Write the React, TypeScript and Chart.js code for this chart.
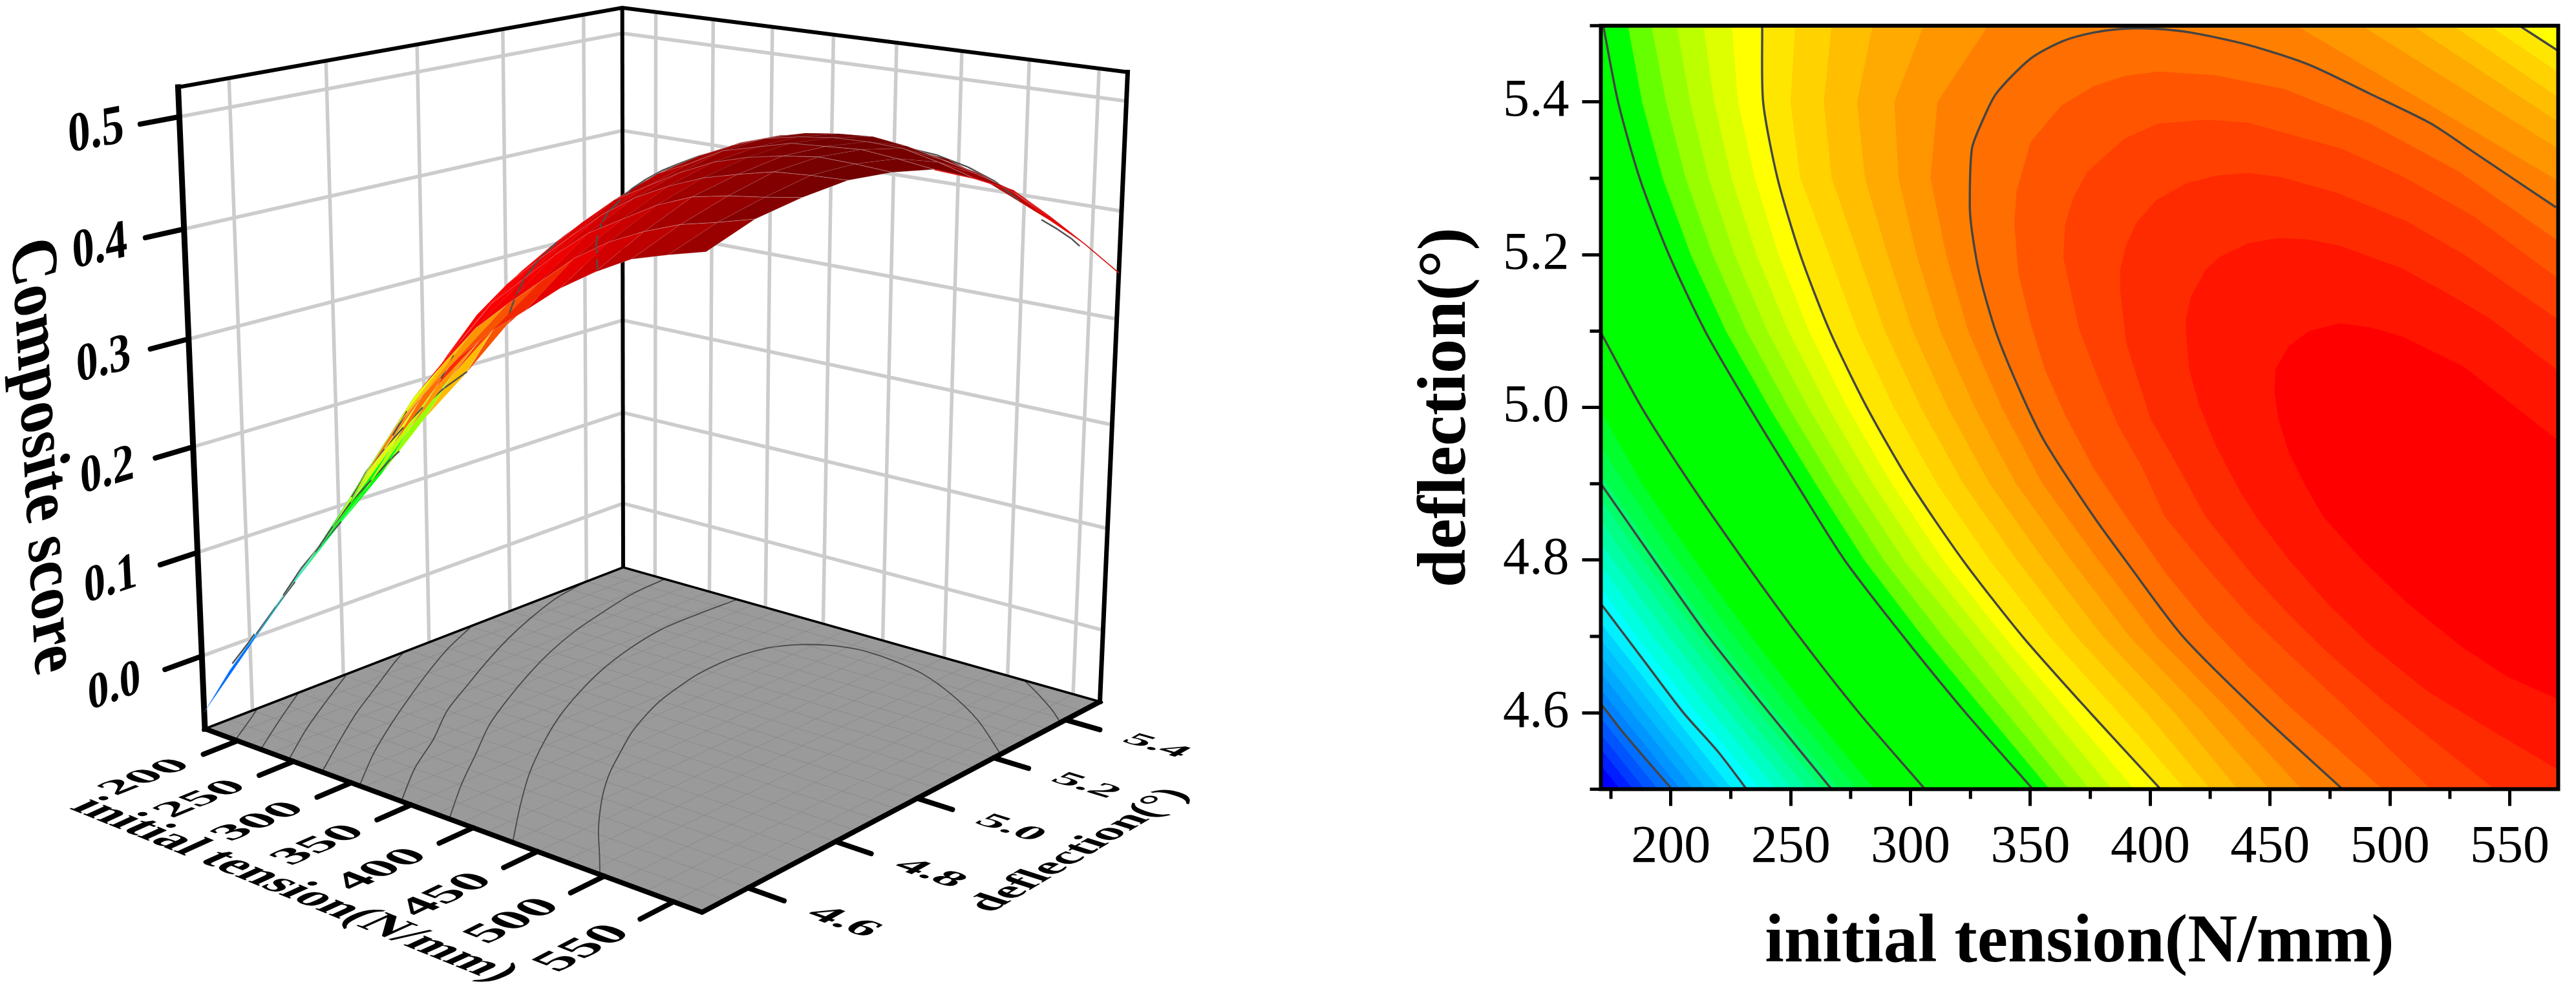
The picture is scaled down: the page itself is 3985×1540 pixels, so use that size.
import React, { useEffect, useRef } from "react";
import { Chart, registerables } from "chart.js";

Chart.register(...registerables);

// ---------- axis ticks ----------
const tensionTicks = [200, 250, 300, 350, 400, 450, 500, 550];
const tensionMinorTicks = [175, 225, 275, 325, 375, 425, 475, 525];
const deflectionTicks = [4.6, 4.8, 5.0, 5.2, 5.4];
const deflectionMinorTicks = [4.5, 4.7, 4.9, 5.1, 5.3, 5.5];
const scoreTicks = [0, 0.1, 0.2, 0.3, 0.4, 0.5];

// ---------- surface ----------
const surfaceX = [170, 195, 220, 245, 270, 295, 320, 345, 370, 395, 420, 445, 470, 495, 520, 545, 570];
const surfaceY = [4.5, 4.6, 4.7, 4.8, 4.9, 5.0, 5.1, 5.2, 5.3, 5.4, 5.5];
const surfaceZ = [
  [-0.055, -0.005, 0.038, 0.082, 0.126, 0.174, 0.221, 0.269, 0.307, 0.342, 0.37, 0.393, 0.417, 0.436, 0.452, 0.461, 0.469],
  [-0.007, 0.041, 0.085, 0.128, 0.178, 0.227, 0.275, 0.312, 0.348, 0.375, 0.4, 0.425, 0.444, 0.458, 0.469, 0.476, 0.484],
  [0.04, 0.084, 0.129, 0.178, 0.225, 0.271, 0.313, 0.352, 0.379, 0.406, 0.43, 0.447, 0.464, 0.476, 0.482, 0.486, 0.491],
  [0.081, 0.124, 0.174, 0.225, 0.275, 0.318, 0.352, 0.379, 0.405, 0.43, 0.45, 0.465, 0.477, 0.485, 0.492, 0.494, 0.495],
  [0.119, 0.169, 0.218, 0.266, 0.308, 0.347, 0.376, 0.403, 0.428, 0.445, 0.462, 0.476, 0.485, 0.491, 0.495, 0.494, 0.492],
  [0.16, 0.209, 0.25, 0.3, 0.337, 0.37, 0.394, 0.42, 0.442, 0.456, 0.472, 0.48, 0.488, 0.49, 0.492, 0.489, 0.485],
  [0.193, 0.243, 0.289, 0.33, 0.36, 0.386, 0.409, 0.432, 0.449, 0.463, 0.474, 0.48, 0.484, 0.485, 0.484, 0.477, 0.468],
  [0.23, 0.272, 0.31, 0.343, 0.37, 0.395, 0.418, 0.438, 0.452, 0.462, 0.47, 0.474, 0.476, 0.472, 0.465, 0.457, 0.448],
  [0.255, 0.29, 0.328, 0.355, 0.377, 0.4, 0.42, 0.437, 0.45, 0.455, 0.458, 0.459, 0.455, 0.45, 0.443, 0.431, 0.415],
  [0.27, 0.3, 0.335, 0.359, 0.38, 0.4, 0.418, 0.428, 0.433, 0.437, 0.44, 0.44, 0.437, 0.424, 0.41, 0.396, 0.38],
  [0.278, 0.31, 0.343, 0.36, 0.378, 0.395, 0.41, 0.417, 0.42, 0.425, 0.425, 0.42, 0.41, 0.398, 0.383, 0.364, 0.343],
];

// ---------- contour fill bands: region >= level gets the colour ----------
const bandRowsY = [5.5, 5.4, 5.3, 5.2, 5.1, 5.0, 4.9, 4.8, 4.7, 4.6, 4.5];
const _ = null;
const bandColors = [
  "#0000ff", "#001eff", "#003cff", "#0055ff", "#006eff", "#0082ff", "#0096ff", "#00aaff", "#00beff", "#00d2ff", "#00f0ff", "#00ffff",
  "#00ffe1", "#00ffc3", "#00ffa5", "#00ff87", "#00ff69", "#00ff4b", "#00ff2d", "#00ff00",
  "#66ff00", "#99ff00", "#bbff00", "#ddff00", "#ffff00",
  "#ffe600", "#ffd200", "#ffbe00", "#ffaa00", "#ff9600", "#ff8000",
  "#ff6e00", "#ff5500", "#ff4000", "#ff2b00", "#ff1500", "#ff0000",
];
const bandZ = [
  -1, -0.045, -0.033, -0.022, -0.01, 0.003, 0.012, 0.022, 0.032, 0.042, 0.05, 0.06,
  0.068, 0.078, 0.088, 0.098, 0.108, 0.125, 0.135, 0.155,
  0.29, 0.3, 0.315, 0.33, 0.342,
  0.355, 0.367, 0.378, 0.39, 0.402, 0.413,
  0.425, 0.437, 0.449, 0.46, 0.472, 0.483,
];
const bandRows = [
  [_, _, _, _, _, _, _, _, _, 153.3, 178.8],
  [_, _, _, _, _, _, _, _, _, 158.7, 184.2],
  [_, _, _, _, _, _, _, _, _, 163.6, 189.1],
  [_, _, _, _, _, _, _, _, _, 169, 194.5],
  [_, _, _, _, _, _, _, _, 149, 174, 199.5],
  [_, _, _, _, _, _, _, _, 153.5, 178.5, 204],
  [_, _, _, _, _, _, _, _, 158.9, 183.9, 209.4],
  [_, _, _, _, _, _, _, _, 164.3, 189.3, 214.8],
  [_, _, _, _, _, _, _, _, 169.7, 194.7, 220.2],
  [_, _, _, _, _, _, _, 151, 175.1, 200.1, 225.6],
  [_, _, _, _, _, _, _, 157.9, 181.4, 206.4, 231.9],
  [_, _, _, _, _, _, _, 162, 185.7, 210.7, 237.2],
  [_, _, _, _, _, _, _, 169, 192.5, 217.5, 244],
  [_, _, _, _, _, _, 153.7, 175.7, 199.2, 224.2, 250.7],
  [_, _, _, _, _, _, 160, 182, 205.5, 230.5, 257],
  [_, _, _, _, _, _, 166.3, 188.3, 211.8, 236.8, 263.3],
  [_, _, _, _, _, 153.5, 173.5, 195.5, 219, 244, 270.5],
  [_, _, _, _, _, 160.7, 180.7, 202.7, 226.2, 251.2, 277.7],
  [_, _, _, _, 149.9, 170, 187.9, 209.9, 233.4, 258.4, 284.9],
  [182.1, 188, 196.6, 208.3, 223, 241, 260.4, 280.7, 305, 331.5, 358],
  [191.9, 198, 206.2, 217.5, 231.6, 249.1, 268.3, 288.9, 313.5, 340, 366.2],
  [202.5, 208, 215.8, 226.6, 240.3, 257.3, 276.3, 297.2, 323.3, 348.8, 374.7],
  [213.5, 218, 225.3, 235.7, 249, 265.5, 284.2, 305.4, 331.1, 357.5, 384],
  [225.4, 228, 235, 244.9, 257.6, 273.6, 292.1, 313.6, 338.9, 366.3, 393.3],
  [238.1, 238.5, 244.5, 254, 266.3, 281.8, 300.1, 321.8, 346.7, 375, 404.3],
  [251.9, 249.9, 254, 266, 277.9, 293, 311, 333, 357.9, 386.8, 414.5],
  [267.1, 263.8, 267.1, 278.2, 289.3, 304.3, 322, 344.4, 369, 398.5, 425.2],
  [284.2, 277.7, 281, 290.4, 300.9, 315.5, 333, 355.7, 380.2, 410.2, 436.5],
  [305.5, 293.2, 295, 302.5, 312.4, 326.8, 344, 367, 391.3, 422, 449.6],
  [332.3, 311.2, 308.3, 314.8, 324, 338, 355, 378.3, 402.5, 433.8, 463.1],
];
// far side of the six bands next to the top right corner: [right edge, top edge]
const bandRightEdge = [
  [[590, 5.427], [554, 5.5]],
  [[590, 5.397], [541.5, 5.5]],
  [[590, 5.364], [526.3, 5.5]],
  [[590, 5.333], [509.4, 5.5]],
  [[590, 5.3], [488.2, 5.5]],
  [[590, 5.26], [461, 5.5]],
];
const ringOuter = [
  [590, 5.22], [569.3, 5.262], [535.6, 5.333], [517, 5.372], [491.6, 5.411], [466.2, 5.449], [440.7, 5.475], [417, 5.491], [401.8, 5.496], [389.1, 5.496], [376.4, 5.491], [363.7, 5.48], [350.1, 5.457], [335.7, 5.411], [329.8, 5.374], [325.6, 5.339], [324.7, 5.266], [325.6, 5.231], [329, 5.171], [335.7, 5.098], [345.9, 5.02], [356, 4.955], [376.4, 4.857], [389.6, 4.8], [413.6, 4.7], [445.5, 4.6], [480.2, 4.5],
];
const ring85 = [
  [590, 5.16], [569.3, 5.22], [528.8, 5.309], [491.6, 5.372], [456, 5.417], [427.2, 5.435], [403.5, 5.44], [389.1, 5.434], [376.4, 5.421], [362.8, 5.395], [350.1, 5.348], [344.2, 5.283], [343.3, 5.24], [345, 5.175], [350.1, 5.11], [356, 5.05], [364.5, 4.99], [376.4, 4.92], [389.9, 4.857], [406.9, 4.781], [423.8, 4.717], [440.7, 4.661], [457.7, 4.609], [478, 4.553], [495.8, 4.503],
];
const ring64 = [
  [590, 5.1], [569.3, 5.171], [535.6, 5.249], [505.1, 5.303], [479.7, 5.339], [440.7, 5.373], [423.8, 5.377], [403.5, 5.372], [389.1, 5.352], [373.8, 5.309], [367.9, 5.275], [364.5, 5.24], [363.7, 5.197], [370.4, 5.102], [377.2, 5.046], [386.5, 4.977], [396.7, 4.921], [406, 4.857], [423.8, 4.789], [440.7, 4.729], [457.7, 4.677], [479.7, 4.613], [516.1, 4.503],
];
const ring43 = [
  [590, 5.05], [569.3, 5.117], [530.5, 5.201], [506.8, 5.244], [478, 5.281], [454.3, 5.302], [440.7, 5.307], [428, 5.304], [415.3, 5.294], [402.6, 5.272], [394.2, 5.242], [389.9, 5.212], [387.4, 5.18], [387.4, 5.154], [389.9, 5.085], [400.1, 4.985], [411.9, 4.921], [423, 4.857], [442.4, 4.781], [457.7, 4.729], [474.6, 4.677], [498.3, 4.613], [542.4, 4.503],
];
const ring21 = [
  [590, 4.98], [569.3, 5.05], [542.4, 5.115], [528.8, 5.141], [505.1, 5.182], [478.9, 5.212], [466.2, 5.22], [453.5, 5.222], [440.7, 5.215], [428.9, 5.197], [423, 5.18], [417, 5.145], [414.8, 5.115], [414.8, 5.102], [416.2, 5.05], [420.4, 5.003], [427.2, 4.951], [437.4, 4.89], [444.1, 4.857], [457.7, 4.801], [474.6, 4.741], [491.6, 4.689], [515.3, 4.629], [542.4, 4.577], [569.3, 4.527], [590, 4.5],
];
const ring0 = [
  [590, 4.88], [569.3, 4.959], [530.5, 5.054], [505.1, 5.093], [491.6, 5.105], [478.9, 5.11], [466.2, 5.1], [457.7, 5.08], [452.3, 5.05], [451.8, 5.02], [453.5, 4.985], [457.7, 4.942], [464.5, 4.899], [472.1, 4.857], [488.2, 4.801], [506.8, 4.745], [530.5, 4.685], [549.2, 4.647], [569.3, 4.619], [590, 4.59],
];
const ringBands = [ringOuter, ring85, ring64, ring43, ring21, ring0];

// ---------- dark contour lines on the flat map ----------
const contour1 = [[170.8, 4.612], [180.4, 4.573], [200.4, 4.5]];
const contour2 = [[170.8, 4.743], [188.6, 4.669], [205, 4.601], [219.7, 4.549], [231.6, 4.5]];
const contour3 = [[170.8, 4.9], [193, 4.8], [215.6, 4.7], [241, 4.6], [267, 4.5]];
const contour4 = [[171, 5.097], [187.8, 5.0], [208.2, 4.9], [230.3, 4.8], [253.5, 4.7], [278.5, 4.6], [306, 4.5]];
const contour5 = [[171.8, 5.5], [178, 5.4], [187, 5.3], [199.2, 5.2], [214.3, 5.1], [232.8, 5.0], [252.4, 4.9], [272.5, 4.8], [297, 4.7], [323, 4.6], [351, 4.5]];
const contour6 = [[238.1, 5.5], [238.5, 5.4], [244.5, 5.3], [254, 5.2], [266.3, 5.1], [281.8, 5.0], [300.1, 4.9], [321.8, 4.8], [346.7, 4.7], [375, 4.6], [404.3, 4.5]];
const contour6b = [[554, 5.5], [570.2, 5.467]];
const contour7 = ringOuter.slice(1);
const mapContours = [contour1, contour2, contour3, contour4, contour5, contour6, contour6b, contour7];

// ---------- contour lines on the floor of the 3D box ----------
const floorArc1 = [[198, 4.5], [178, 4.58], [170, 4.61]];
const floorArc2 = [[221, 4.5], [195, 4.6], [170, 4.7]];
const floorArc3 = [[246, 4.5], [219, 4.6], [195, 4.7], [172, 4.8]];
const floorArc4 = [[275, 4.5], [248.5, 4.6], [223, 4.7], [200.5, 4.8], [178, 4.9], [170, 4.94]];
const floorArc5 = [[307, 4.5], [278.5, 4.6], [253.5, 4.7], [230.3, 4.8], [208.2, 4.9], [187.8, 5.0], [171, 5.1]];
const floorArc6 = [[342, 4.5], [313.7, 4.6], [290.5, 4.7], [264, 4.8], [243.6, 4.9], [223.8, 5.0], [205.6, 5.1], [190, 5.2], [177, 5.3], [170, 5.4]];
const floorArc7 = [[381, 4.5], [352.4, 4.6], [326.5, 4.7], [300.5, 4.8], [279.6, 4.9], [260.7, 5.0], [244, 5.1], [230.4, 5.2], [220.5, 5.3], [212, 5.4], [209, 5.5]];
const floorArc8 = [[431, 4.5], [400, 4.6], [371, 4.7], [346, 4.8], [324, 4.9], [306, 5.0], [291, 5.1], [280, 5.2], [273, 5.3], [273, 5.4], [275, 5.5]];
const floorArc9 = ring85.slice(1).reverse();
const floorArc10 = [[513, 5.5], [535, 5.46], [555, 5.42], [570, 5.385]];
const floorArcs = [floorArc1, floorArc2, floorArc3, floorArc4, floorArc5, floorArc6, floorArc7, floorArc8, floorArc9, floorArc10];
const floorArcLevels = [0.003, 0.04, 0.085, 0.135, 0.195, 0.26, 0.32, 0.38, 0.437, 0.38];

// ---------- 3D box in the picture ----------
const boxFloor = [[317, 1128], [1086, 1412], [1701.5, 1086], [964, 878]];
const boxTopLeft = [275.5, 135];
const boxTopRight = [1744.5, 120];
const X0 = 170, X1 = 570, Y0 = 4.5, Y1 = 5.5, Z0 = -0.0714, Z1 = 0.526;
// how bright the surface is across the picture: [screen x, brightness]
const lightStops = [[700, 1], [850, 0.94], [1000, 0.72], [1150, 0.54], [1300, 0.44], [1450, 0.48], [1550, 0.7], [1650, 1]];

function makeCamera() {
  const [[x0, y0], [x1, y1], [x2, y2], [x3, y3]] = boxFloor;
  const sx = x0 - x1 + x2 - x3, sy = y0 - y1 + y2 - y3;
  const dx1 = x1 - x2, dx2 = x3 - x2, dy1 = y1 - y2, dy2 = y3 - y2;
  const den = dx1 * dy2 - dx2 * dy1;
  const g = (sx * dy2 - dx2 * sy) / den, h = (dx1 * sy - sx * dy1) / den;
  const h1 = [x1 - x0 + g * x1, y1 - y0 + g * y1, g];
  const h2 = [x3 - x0 + h * x3, y3 - y0 + h * y3, h];
  const h3 = [x0, y0, 1];
  const s = [h1[0] + h2[0], h1[1] + h2[1], h1[2] + h2[2]];
  const [tx, ty] = boxTopLeft, [t1x] = boxTopRight;
  const mu = (t1x * s[2] - s[0]) / (tx - t1x);
  const h4 = [mu * tx - h3[0], mu * ty - h3[1], mu - h3[2]];
  return (x: number, y: number, z: number) => {
    const u = (x - X0) / (X1 - X0), v = (y - Y0) / (Y1 - Y0), w = (z - Z0) / (Z1 - Z0);
    const W = h1[2] * u + h2[2] * v + h4[2] * w + h3[2];
    return {
      x: (h1[0] * u + h2[0] * v + h4[0] * w + h3[0]) / W,
      y: (h1[1] * u + h2[1] * v + h4[1] * w + h3[1]) / W,
    };
  };
}
const project = makeCamera();

const shape = (data: any[], color: string, border = "transparent", width = 0) => ({
  type: "scatter", data, showLine: true, fill: "shape", backgroundColor: color, borderColor: border,
  borderWidth: width, pointRadius: 0, tension: 0,
});
const stroke = (data: any[], color: string, width: number, cap = "butt", tension = 0) => ({
  type: "scatter", data, showLine: true, fill: false, borderColor: color, borderWidth: width,
  borderCapStyle: cap, pointRadius: 0, tension,
});

function colorFor(z: number) {
  let i = 0;
  for (let k = 0; k < bandZ.length; k++) if (z >= bandZ[k]) i = k;
  return bandColors[i];
}
function shaded(hex: string, b: number) {
  const n = parseInt(hex.slice(1), 16);
  return `rgb(${Math.round(((n >> 16) & 255) * b)},${Math.round(((n >> 8) & 255) * b)},${Math.round((n & 255) * b)})`;
}
function lightAt(sx: number) {
  if (sx <= lightStops[0][0]) return lightStops[0][1];
  for (let k = 1; k < lightStops.length; k++) {
    if (sx <= lightStops[k][0]) {
      const [a, la] = lightStops[k - 1], [b, lb] = lightStops[k];
      return la + ((lb - la) * (sx - a)) / (b - a);
    }
  }
  return 1;
}

function boxDatasets() {
  const out: any[] = [];
  const GRID = "#cccccc";
  for (const z of scoreTicks) {
    out.push(stroke([project(X0, Y0, z), project(X0, Y1, z), project(X1, Y1, z)], GRID, 5.5));
  }
  for (const y of deflectionTicks) out.push(stroke([project(X0, y, Z0), project(X0, y, Z1)], GRID, 5.5));
  for (const x of tensionTicks) out.push(stroke([project(x, Y1, Z0), project(x, Y1, Z1)], GRID, 5.5));
  out.push(shape([project(X0, Y0, Z0), project(X1, Y0, Z0), project(X1, Y1, Z0), project(X0, Y1, Z0)], "#9a9a9a"));
  for (let x = X0 + 20; x < X1; x += 20) out.push(stroke([project(x, Y0, Z0), project(x, Y1, Z0)], "#8b8b8b", 1));
  for (let k = 1; k < 20; k++) out.push(stroke([project(X0, Y0 + k * 0.05, Z0), project(X1, Y0 + k * 0.05, Z0)], "#8b8b8b", 1));
  floorArcs.forEach((arc) => out.push(stroke(arc.map(([x, y]) => project(x, y, Z0)), "#484848", 1.8, "butt", 0.3)));
  const B = "#000";
  out.push(stroke([project(X0, Y0, Z1), project(X0, Y1, Z1), project(X1, Y1, Z1)], B, 6, "square"));
  out.push(stroke([project(X0, Y1, Z0), project(X0, Y1, Z1)], B, 6));
  out.push(stroke([project(X0, Y0, Z0), project(X0, Y1, Z0), project(X1, Y1, Z0)], B, 3.5));
  out.push(stroke([project(X1, Y1, Z0), project(X1, Y1, Z1)], B, 7, "square"));
  out.push(stroke([project(X0, Y0, Z0), project(X0, Y0, Z1)], B, 9, "square"));
  out.push(stroke([project(X0, Y0, Z0), project(X1, Y0, Z0), project(X1, Y1, Z0)], B, 8, "square"));
  for (const z of scoreTicks) out.push(stroke([project(X0, Y0, z), project(X0, Y0 - 0.075, z)], B, 8, "round"));
  for (const x of tensionTicks) out.push(stroke([project(x, Y0, Z0), project(x, Y0 - 0.07, Z0)], B, 8, "round"));
  for (const y of deflectionTicks) out.push(stroke([project(X1, y, Z0), project(X1 + 25, y, Z0)], B, 8, "round"));
  const items: { key: number; ds: any }[] = [];
  for (let j = surfaceY.length - 2; j >= 0; j--) {
    for (let i = 0; i < surfaceX.length - 1; i++) {
      const a = project(surfaceX[i], surfaceY[j], surfaceZ[j][i]);
      const b = project(surfaceX[i + 1], surfaceY[j], surfaceZ[j][i + 1]);
      const c = project(surfaceX[i + 1], surfaceY[j + 1], surfaceZ[j + 1][i + 1]);
      const d = project(surfaceX[i], surfaceY[j + 1], surfaceZ[j + 1][i]);
      const mz = (surfaceZ[j][i] + surfaceZ[j][i + 1] + surfaceZ[j + 1][i + 1] + surfaceZ[j + 1][i]) / 4;
      const my = surfaceY[j] + 0.05;
      const lift = Math.min(0.21, (my - Y0) * 1.4) * Math.max(0, Math.min(1, (mz - 0.05) / 0.17));
      const lit = lightAt((a.x + c.x) / 2);
      items.push({
        key: (surfaceX[i] + 12.5 - X0) / 400 + (Y1 - my),
        ds: shape([a, b, c, d], shaded(colorFor(mz + lift), lit), "rgba(225,225,225,0.3)", 1),
      });
    }
  }
  floorArcs.forEach((arc, n) => {
    for (let k = 0; k + 1 < arc.length; k++) {
      const [xa, ya] = arc[k], [xb, yb] = arc[k + 1];
      items.push({
        key: ((xa + xb) / 2 - X0) / 400 + (Y1 - (ya + yb) / 2) + 0.02,
        ds: stroke([project(xa, ya, floorArcLevels[n]), project(xb, yb, floorArcLevels[n])], "#505050", 2.4),
      });
    }
  });
  items.sort((p, q) => p.key - q.key);
  items.forEach((it) => out.push(it.ds));
  const last = surfaceX.length - 1;
  out.push(stroke(surfaceY.slice(5).map((y, k) => project(X1, y, surfaceZ[k + 5][last])), "#d81818", 1.8));
  return out;
}

function mapDatasets() {
  const out: any[] = [];
  out.push(shape([{ x: 100, y: 4.4 }, { x: 620, y: 4.4 }, { x: 620, y: 5.6 }, { x: 100, y: 5.6 }], bandColors[0]));
  bandRows.forEach((row, n) => {
    const left: any[] = [];
    row.forEach((x, k) => { if (x !== null) left.push({ x, y: bandRowsY[k] }); });
    const last = left[left.length - 1];
    const first = left[0];
    const right = n >= 24 ? bandRightEdge[n - 24] : null;
    const closure = right
      ? [{ x: 620, y: 4.4 }, { x: 620, y: right[0][1] - 0.02 }, ...right.map(([x, y]) => ({ x, y })), { x: right[1][0], y: 5.6 }, { x: first.x, y: 5.6 }]
      : [{ x: 620, y: 4.4 }, { x: 620, y: 5.6 }, { x: first.x < 170 ? 100 : first.x, y: 5.6 }];
    out.push(shape([...left, { x: last.x, y: 4.4 }, ...closure], bandColors[n + 1]));
  });
  ringBands.forEach((ring, n) => {
    const pts = ring.map(([x, y]) => ({ x, y }));
    const last = pts[pts.length - 1];
    const first = pts[0];
    const extra = n < 4
      ? [{ x: last.x, y: 4.4 }, { x: 620, y: 4.4 }, { x: 620, y: first.y }]
      : [{ x: 620, y: last.y }, { x: 620, y: first.y }];
    out.push(shape([...pts, ...extra], bandColors[31 + n]));
  });
  mapContours.forEach((c) => out.push(stroke(c.map(([x, y]) => ({ x, y })), "#444444", 3.4, "butt", 0.25)));
  return out;
}

const SERIF = "'Liberation Serif', 'Times New Roman', serif";

const boxText = {
  id: "boxText",
  afterDraw(chart: any) {
    const ctx = chart.ctx;
    const put = (text: string, p: any, e1: number[], e2: number[], font: string) => {
      ctx.save();
      ctx.setTransform(e1[0], e1[1], e2[0], e2[1], p.x, p.y);
      ctx.font = font;
      ctx.fillStyle = "#000";
      ctx.textAlign = "center";
      ctx.textBaseline = "middle";
      ctx.fillText(text, 0, 0);
      ctx.restore();
    };
    const jac = (x: number, y: number, z: number) => {
      const p = project(x, y, z);
      const a = project(x + 1, y, z), b = project(x, y + 0.01, z), c = project(x, y, z + 0.01);
      return { p, jx: [a.x - p.x, a.y - p.y], jy: [(b.x - p.x) * 100, (b.y - p.y) * 100], jz: [(c.x - p.x) * 100, (c.y - p.y) * 100] };
    };
    const sc = (v: number[], k: number) => [v[0] * k, v[1] * k];
    const F = `bold 100px ${SERIF}`;
    for (const z of scoreTicks) {
      const j = jac(X0, 4.325 + 0.035 * z, z);
      put(z.toFixed(1), j.p, sc(j.jy, 0.00082), sc(j.jz, -0.00048), F);
    }
    for (const x of tensionTicks) {
      const j = jac(x, 4.315, Z0);
      put(String(x), j.p, sc(j.jy, 0.00101), sc(j.jx, 0.31), F);
    }
    for (const y of deflectionTicks) {
      const j = jac(635, y, Z0);
      put(y.toFixed(1), j.p, sc(j.jx, 0.33), sc(j.jy, -0.0007), F);
    }
    let j = jac(382, 4.19, Z0);
    put("initial tension(N/mm)", j.p, sc(j.jx, 0.372), sc(j.jy, -0.00086), F);
    j = jac(682, 5.0, Z0);
    put("deflection(°)", j.p, sc(j.jy, 0.001), sc(j.jx, 0.28), F);
    j = jac(X0, 4.212, 0.231);
    put("Composite score", j.p, sc(j.jz, -0.00055), sc(j.jy, -0.0012), F);
  },
};

const mapFrame = {
  id: "mapFrame",
  afterDraw(chart: any) {
    const { ctx, chartArea: a, scales } = chart;
    ctx.save();
    ctx.strokeStyle = "#000";
    ctx.lineWidth = 5;
    ctx.beginPath();
    for (const v of tensionMinorTicks) {
      const px = scales.x.getPixelForValue(v);
      ctx.moveTo(px, a.bottom);
      ctx.lineTo(px, a.bottom + 15);
    }
    for (const v of deflectionMinorTicks) {
      const py = scales.y.getPixelForValue(v);
      ctx.moveTo(a.left, py);
      ctx.lineTo(a.left - 17, py);
    }
    ctx.stroke();
    ctx.lineWidth = 6;
    ctx.strokeRect(a.left, a.top, a.right - a.left, a.bottom - a.top);
    ctx.restore();
  },
};

export default function App() {
  const boxRef = useRef<HTMLCanvasElement>(null);
  const mapRef = useRef<HTMLCanvasElement>(null);

  useEffect(() => {
    const noLegend = { legend: { display: false }, tooltip: { enabled: false }, title: { display: false } };
    const box = new Chart(boxRef.current as any, {
      type: "scatter",
      data: { datasets: boxDatasets().reverse() as any },
      options: {
        animation: false, responsive: false, devicePixelRatio: 1, events: [],
        layout: { padding: 0 },
        plugins: noLegend as any,
        scales: {
          x: { type: "linear", display: false, min: 0, max: 2100 },
          y: { type: "linear", display: false, min: 0, max: 1540, reverse: true },
        },
      },
      plugins: [boxText],
    } as any);
    const map = new Chart(mapRef.current as any, {
      type: "scatter",
      data: { datasets: mapDatasets().reverse() as any },
      options: {
        animation: false, responsive: false, devicePixelRatio: 1, events: [],
        layout: { padding: { top: 39.8, right: 27.5 } },
        plugins: noLegend as any,
        scales: {
          x: {
            type: "linear", min: 170.8, max: 570.2,
            afterBuildTicks: (s: any) => { s.ticks = tensionTicks.map((value) => ({ value })); },
            afterFit: (s: any) => { s.height = 318.6; s.paddingLeft = 0; s.paddingRight = 0; },
            grid: { drawOnChartArea: false, tickLength: 26, tickWidth: 5, tickColor: "#000" },
            border: { display: false },
            ticks: { color: "#000", font: { family: SERIF, size: 82 }, padding: 16, maxRotation: 0, autoSkip: false, callback: (v: any) => String(v) },
            title: { display: true, text: "initial tension(N/mm)", color: "#000", font: { family: SERIF, size: 106.5, weight: "bold" }, padding: { top: 0, bottom: 16 } },
          },
          y: {
            type: "linear", min: 4.5, max: 5.5,
            afterBuildTicks: (s: any) => { s.ticks = deflectionTicks.map((value) => ({ value })); },
            afterFit: (s: any) => { s.width = 376.5; s.paddingTop = 0; s.paddingBottom = 0; },
            grid: { drawOnChartArea: false, tickLength: 29, tickWidth: 5, tickColor: "#000" },
            border: { display: false },
            ticks: { color: "#000", font: { family: SERIF, size: 82 }, padding: 20, autoSkip: false, callback: (v: any) => Number(v).toFixed(1) },
            title: { display: true, text: "deflection(°)", color: "#000", font: { family: SERIF, size: 106.5, weight: "bold" }, padding: { top: 75, bottom: 0 } },
          },
        },
      },
      plugins: [mapFrame],
    } as any);
    return () => { box.destroy(); map.destroy(); };
  }, []);

  return (
    <div style={{ position: "absolute", left: 0, top: 0, width: 3985, height: 1540, background: "#fff", overflow: "hidden" }}>
      <canvas ref={boxRef} width={2100} height={1540} style={{ position: "absolute", left: 0, top: 0, width: 2100, height: 1540 }} />
      <canvas ref={mapRef} width={1885} height={1540} style={{ position: "absolute", left: 2100, top: 0, width: 1885, height: 1540 }} />
    </div>
  );
}
